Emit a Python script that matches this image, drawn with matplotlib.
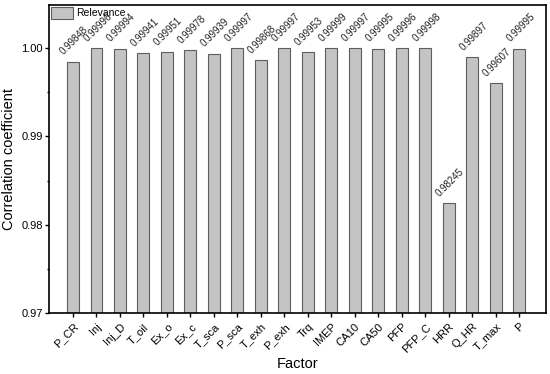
import matplotlib
matplotlib.use("Agg")
import matplotlib.pyplot as plt
from matplotlib.ticker import MultipleLocator

plt.rcParams['font.family'] = ['Liberation Sans', 'DejaVu Sans']

factors = ["P_CR", "Inj", "Inj_D", "T_oil", "Ex_o", "Ex_c", "T_sca", "P_sca", "T_exh", "P_exh",
           "Trq", "IMEP", "CA10", "CA50", "PFP", "PFP_C", "HRR", "Q_HR", "T_max", "P"]
values = [0.99848, 0.99996, 0.99994, 0.99941, 0.99951, 0.99978, 0.99939, 0.99997, 0.99868, 0.99997,
          0.99953, 0.99999, 0.99997, 0.99995, 0.99996, 0.99998, 0.98245, 0.99897, 0.99607, 0.99995]
value_labels = ["0.99848", "0.99996", "0.99994", "0.99941", "0.99951", "0.99978", "0.99939", "0.99997",
                "0.99868", "0.99997", "0.99953", "0.99999", "0.99997", "0.99995", "0.99996", "0.99998",
                "0.98245", "0.99897", "0.99607", "0.99995"]
yticks = [0.97, 0.98, 0.99, 1.00]
ytick_labels = ["0.97", "0.98", "0.99", "1.00"]

fig = plt.figure(figsize=(5.5, 3.74), dpi=100)
ax = fig.add_axes([0.089, 0.163, 0.904, 0.824])

x = list(range(1, len(factors) + 1))
ax.bar(x, values, width=0.5, color="#c4c4c4", edgecolor="#5e5e5e", linewidth=0.8,
       label="Relevance")
for xi, v, lab in zip(x, values, value_labels):
    ax.annotate(lab, (xi, v), xytext=(1, 3.5), textcoords="offset points", rotation=45,
                ha="center", va="bottom", fontsize=7, color="#222222")

ax.set_ylim(0.97, 1.0049)
ax.set_xlim(-0.02, 21.15)
ax.set_yticks(yticks)
ax.set_yticklabels(ytick_labels, fontsize=8)
ax.yaxis.set_minor_locator(MultipleLocator(0.005))
ax.set_xticks(x)
ax.set_xticklabels(factors, rotation=45, ha="right", rotation_mode="anchor", fontsize=8)
ax.tick_params(axis="both", which="major", direction="out", length=3, width=1, pad=1.5)
ax.tick_params(axis="x", which="major", pad=3)
ax.tick_params(axis="y", which="minor", direction="out", length=1.5, width=1)
for s in ax.spines.values():
    s.set_linewidth(1.2)
ax.set_ylabel("Correlation coefficient", fontsize=10.5, labelpad=4)
ax.set_xlabel("Factor", fontsize=10.5, labelpad=2)
ax.legend(loc="upper left", frameon=False, fontsize=7.5, handlelength=2.1, handleheight=1.35,
          handletextpad=0.3, borderaxespad=0.1, borderpad=0.1)

fig.savefig("out.png", dpi=100)
